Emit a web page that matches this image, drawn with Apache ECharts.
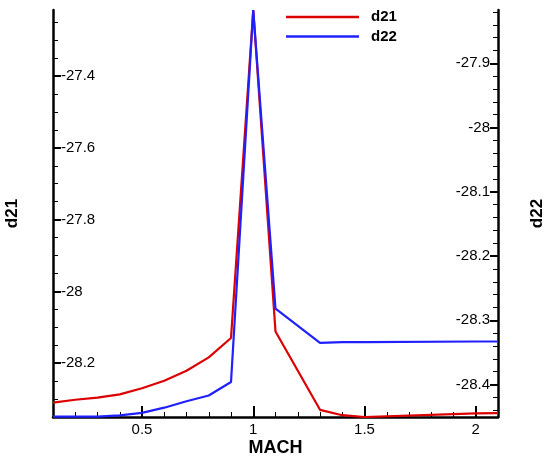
<!DOCTYPE html>
<html>
<head>
<meta charset="utf-8">
<script src="https://cdn.jsdelivr.net/npm/echarts@6/dist/echarts.min.js"></script>
<style>
  html, body { margin: 0; padding: 0; background: #fff; }
  #main { width: 550px; height: 457px; }
</style>
</head>
<body>
<div id="main"></div>
<script>
'use strict';

const mach = [0.1, 0.2, 0.3, 0.4, 0.5, 0.6, 0.7, 0.8, 0.9, 1.0, 1.1, 1.3, 1.4, 1.5, 2.0, 2.1];
const d21 = [-28.310, -28.302, -28.296, -28.287, -28.270, -28.249, -28.221, -28.184, -28.130,
    -27.216, -28.112, -28.330, -28.345, -28.350, -28.340, -28.339];
const d22 = [-28.450, -28.450, -28.4498, -28.448, -28.444, -28.436, -28.426, -28.417, -28.396,
    -27.817, -28.282, -28.335, -28.334, -28.334, -28.333, -28.333];

const xLabels = [0.5, 1, 1.5, 2];
const leftLabels = [-28.2, -28, -27.8, -27.6, -27.4];
const rightLabels = [-28.4, -28.3, -28.2, -28.1, -28, -27.9];

// minor tick positions
function steps(from, to, step) {
    const out = [];
    const n = Math.round((to - from) / step);
    for (let i = 0; i <= n; i++) out.push(+(from + i * step).toFixed(4));
    return out;
}
const xMinor = steps(0.1, 2.1, 0.1);
const leftMinor = steps(-28.35, -27.25, 0.05);
const rightMinor = steps(-28.44, -27.82, 0.02);

const xRange = [0.1, 2.1];
const leftRange = [-28.35, -27.216];
const rightRange = [-28.4505, -27.817];

const red = '#dd0000';
const blue = '#2020ff';
const font = 'Liberation Sans, Arial, sans-serif';

function pairs(xs, ys) {
    return xs.map(function (x, i) { return [x, ys[i]]; });
}

function legendRow(name, top) {
    return {
        orient: 'vertical',
        left: 281,
        top: top,
        icon: 'rect',
        itemWidth: 73,
        itemHeight: 2.5,
        textStyle: { fontFamily: font, fontSize: 15, fontWeight: 'bold', color: '#000', padding: [0, 0, 0, 7] },
        data: [name]
    };
}

const chart = echarts.init(document.getElementById('main'));
chart.setOption({
    animation: false,
    backgroundColor: '#fff',
    textStyle: { fontFamily: font },
    grid: { left: 53, right: 52, top: 10, bottom: 40, containLabel: false, outerBoundsMode: 'none' },
    legend: [legendRow('d21', 4.5), legendRow('d22', 24)],
    xAxis: [
        {
            type: 'value', min: xRange[0], max: xRange[1], position: 'bottom',
            name: 'MACH', nameLocation: 'middle', nameGap: 22, nameMoveOverlap: false,
            nameTextStyle: { fontFamily: font, fontSize: 18, fontWeight: 'bold', color: '#000' },
            axisLine: { show: true, onZero: false, lineStyle: { color: '#000', width: 2.5 } },
            axisTick: { show: true, inside: true, length: 5, customValues: xMinor, lineStyle: { color: '#000', width: 1 } },
            axisLabel: { customValues: xLabels, margin: 5, fontSize: 15, color: '#000', fontFamily: font },
            splitLine: { show: false }
        },
        {
            type: 'value', min: xRange[0], max: xRange[1], position: 'bottom', offset: 0,
            axisLine: { show: false },
            axisTick: { show: true, inside: true, length: 11, customValues: xLabels, lineStyle: { color: '#000', width: 2 } },
            axisLabel: { show: false },
            splitLine: { show: false }
        }
    ],
    yAxis: [
        {
            type: 'value', min: leftRange[0], max: leftRange[1], position: 'left',
            name: 'd21', nameLocation: 'middle', nameRotate: 90, nameGap: 32, nameMoveOverlap: false,
            nameTextStyle: { fontFamily: font, fontSize: 17, fontWeight: 'bold', color: '#000' },
            axisLine: { show: true, onZero: false, lineStyle: { color: '#000', width: 2.5 } },
            axisTick: { show: true, inside: true, length: 5, customValues: leftMinor, lineStyle: { color: '#000', width: 1 } },
            axisLabel: { inside: true, customValues: leftLabels, margin: 8, fontSize: 15, color: '#000', fontFamily: font },
            splitLine: { show: false }
        },
        {
            type: 'value', min: rightRange[0], max: rightRange[1], position: 'right', offset: 0,
            name: 'd22', nameLocation: 'middle', nameRotate: 90, nameGap: 31, nameMoveOverlap: false,
            nameTextStyle: { fontFamily: font, fontSize: 17, fontWeight: 'bold', color: '#000' },
            axisLine: { show: true, onZero: false, lineStyle: { color: '#000', width: 2.5 } },
            axisTick: { show: true, inside: true, length: 5, customValues: rightMinor, lineStyle: { color: '#000', width: 1 } },
            axisLabel: { inside: true, customValues: rightLabels, margin: 8, fontSize: 15, color: '#000', fontFamily: font },
            splitLine: { show: false }
        },
        {
            type: 'value', min: leftRange[0], max: leftRange[1], position: 'left', offset: 0,
            axisLine: { show: false },
            axisTick: { show: true, inside: true, length: 8, customValues: leftLabels, lineStyle: { color: '#000', width: 2 } },
            axisLabel: { show: false },
            splitLine: { show: false }
        },
        {
            type: 'value', min: rightRange[0], max: rightRange[1], position: 'right', offset: 0,
            axisLine: { show: false },
            axisTick: { show: true, inside: true, length: 8, customValues: rightLabels, lineStyle: { color: '#000', width: 2 } },
            axisLabel: { show: false },
            splitLine: { show: false }
        }
    ],
    series: [
        {
            name: 'd21', type: 'line', xAxisIndex: 0, yAxisIndex: 0,
            data: pairs(mach, d21), symbol: 'none', showSymbol: false,
            lineStyle: { color: red, width: 2.2 }, itemStyle: { color: red }
        },
        {
            name: 'd22', type: 'line', xAxisIndex: 0, yAxisIndex: 1,
            data: pairs(mach, d22), symbol: 'none', showSymbol: false,
            lineStyle: { color: blue, width: 2.2 }, itemStyle: { color: blue }
        }
    ]
});
window.addEventListener('resize', function () {
    chart.resize();
});
</script>
</body>
</html>
